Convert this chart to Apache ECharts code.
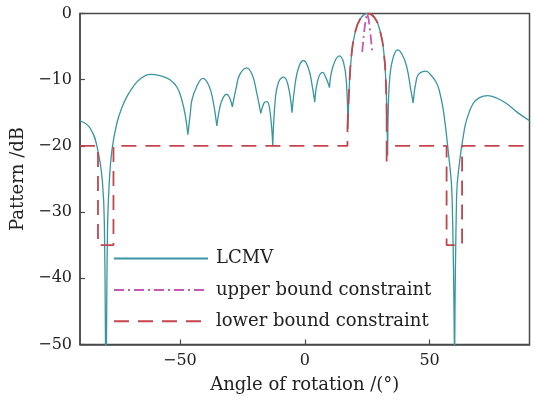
<!DOCTYPE html>
<html>
<head>
<meta charset="utf-8">
<script src="https://cdn.jsdelivr.net/npm/echarts@6/dist/echarts.min.js"></script>
<style>
  html, body { margin: 0; padding: 0; background: #fff; }
  #chart { width: 534px; height: 403px; }
</style>
</head>
<body>
<div id="chart"></div>
<script>
// Beam pattern of the LCMV beamformer (angle in degrees, level in dB),
// stored lobe by lobe; consecutive lobes share their null.
const lcmvLobes = [
  [[-90, -16.2], [-86, -17.3], [-83, -20.4], [-81, -25.5], [-80.2, -33], [-79.6, -60]],
  [[-79.6, -60], [-79, -33], [-78.3, -25.7], [-77.2, -20.6], [-75.2, -16.5], [-73, -14.0],
   [-71, -12.4], [-68.6, -11.0], [-65.9, -9.9], [-62, -9.2], [-58, -9.4], [-54, -10.0],
   [-51.2, -11.1], [-49.2, -13.1], [-47.8, -15.5], [-46.8, -18.3]],
  [[-46.8, -18.3], [-45.8, -15.0], [-45.2, -13.1], [-43.2, -11.0], [-40.8, -9.8],
   [-38.5, -10.8], [-36.8, -13.0], [-35.2, -17.0]],
  [[-35.2, -17.0], [-33.9, -14.0], [-32.5, -12.6], [-31.2, -12.2], [-30, -12.8], [-29, -14.1]],
  [[-29, -14.1], [-27.5, -11.3], [-26, -9.2], [-23.2, -8.2], [-21, -9.3], [-19.5, -11.5],
   [-17.6, -15.1]],
  [[-17.6, -15.1], [-16.3, -13.5], [-15.2, -13.3], [-14, -14.5], [-12.8, -20.1]],
  [[-12.8, -20.1], [-11.8, -13.0], [-10.5, -10.4], [-8.5, -9.6], [-6.7, -10.8], [-5.1, -15.0]],
  [[-5.1, -15.0], [-3.8, -10.5], [-2.3, -8.0], [-0.5, -7.1], [1.5, -8.3], [2.8, -10.5],
   [4.0, -13.4]],
  [[4.0, -13.4], [5.3, -10.0], [7.1, -8.9], [8.6, -9.8], [9.9, -11.2]],
  [[9.9, -11.2], [11.3, -8.0], [13.9, -6.4], [15.6, -7.5], [16.7, -10.5], [17.3, -17.5]],
  [[17.3, -17.5], [17.9, -10.5], [18.8, -6.0], [20.1, -3.0], [22.1, -0.9], [25, 0],
   [28.1, -0.7], [30.4, -3.0], [31.7, -6.0], [32.5, -10.5], [32.9, -15.6], [33.2, -21.5]],
  [[33.2, -21.5], [33.5, -13.6], [34.1, -9.5], [35.3, -6.8], [37.2, -5.5], [39, -6.2],
   [40.8, -8.0], [42.5, -11.6], [43.4, -13.5]],
  [[43.4, -13.5], [44.8, -9.8], [46.1, -9.0], [48.5, -8.7], [50.5, -9.3], [52.8, -10.5],
   [54.1, -12.0], [55.5, -14.6], [57.4, -20.6], [59, -27.7], [60, -60]],
  [[60, -60], [60.8, -27.7], [62.1, -22.1], [63.9, -17.6], [64.8, -16.1], [67.4, -13.6],
   [70, -12.7], [73.2, -12.4], [77, -12.8], [80.8, -13.6], [85, -14.9], [90, -16.2]]
];

// Upper bound constraint around the look direction
const upperBound = [
  [23, -5.8], [23.7, -3.0], [24.4, -0.9], [25, 0], [25.6, -0.9], [26.3, -3.0], [27, -5.8]
];

// Lower bound constraint: -20 dB sidelobe floor with -35 dB notches ...
const lowerSteps = [
  [[-90, -20], [-82.8, -20], [-82.8, -35], [-76.6, -35], [-76.6, -20], [17.1, -20], [17.1, -17.3]],
  [[32.8, -15.6], [32.8, -22.6], [32.8, -20], [56.8, -20], [56.8, -35], [63, -35], [63, -20], [90, -20]]
];
// ... and a main-lobe mask between the two steps
const lowerMainLobe = [
  [17.1, -17.3], [17.9, -10.5], [18.8, -6.0], [20.1, -3.0], [22.1, -0.9], [25, 0],
  [28.1, -0.7], [30.4, -3.0], [31.7, -6.0], [32.5, -10.5], [32.8, -15.6]
];

const xTicks = [-50, 0, 50];
const seriesNames = ['LCMV', 'upper bound constraint', 'lower bound constraint'];

// join pieces with a gap so each piece is drawn (and smoothed) on its own
const joinPieces = pieces => pieces.reduce((acc, p, i) => (i ? acc.concat(['-'], p) : acc.concat(p)), []);

const FONT = 'DejaVu Serif';
const AXIS_COLOR = '#4a4a4a';
const TEAL = '#3796a0';
const MAGENTA = '#c458b4';
const RED = '#c4454d';
const minus = v => (v < 0 ? '\u2212' + Math.abs(v) : String(v));

const chart = echarts.init(document.getElementById('chart'), null, { renderer: 'canvas' });
chart.setOption({
  animation: false,
  backgroundColor: '#fff',
  textStyle: { fontFamily: FONT, color: '#222' },
  grid: {
    left: 80, right: 4.5, top: 13.5, bottom: 58.5,
    show: true, borderColor: AXIS_COLOR, borderWidth: 1.5, backgroundColor: 'transparent'
  },
  legend: {
    data: seriesNames,
    orient: 'vertical',
    left: 108, top: 243.5,
    itemWidth: 94, itemHeight: 14, itemGap: 11.4,
    itemStyle: { opacity: 0 },
    textStyle: { fontFamily: FONT, fontSize: 18, color: '#222', lineHeight: 20, padding: [0, 0, 0, 3] }
  },
  xAxis: {
    type: 'value', min: -90, max: 90,
    name: 'Angle of rotation /(°)', nameLocation: 'middle', nameGap: 32,
    nameTextStyle: { fontFamily: FONT, fontSize: 18, color: '#222' },
    axisLine: { onZero: false, lineStyle: { color: AXIS_COLOR, width: 1.5 } },
    axisTick: { inside: true, length: 5, customValues: xTicks, lineStyle: { color: AXIS_COLOR, width: 1.2 } },
    axisLabel: { customValues: xTicks, formatter: minus, fontFamily: FONT, fontSize: 16, color: '#222', margin: 8 },
    splitLine: { show: false }
  },
  yAxis: {
    type: 'value', min: -50, max: 0, interval: 10,
    name: 'Pattern /dB', nameLocation: 'middle', nameGap: 44,
    nameTextStyle: { fontFamily: FONT, fontSize: 18, color: '#222' },
    axisLine: { onZero: false, lineStyle: { color: AXIS_COLOR, width: 1.5 } },
    axisTick: { inside: true, length: 5, lineStyle: { color: AXIS_COLOR, width: 1.2 } },
    axisLabel: { formatter: minus, fontFamily: FONT, fontSize: 16, color: '#222', margin: 8 },
    splitLine: { show: false }
  },
  series: [
    {
      name: seriesNames[0], type: 'line', data: joinPieces(lcmvLobes),
      symbol: 'none', smooth: 0.45, connectNulls: false, clip: true,
      lineStyle: { color: TEAL, width: 1.3 }, itemStyle: { color: TEAL }, z: 2
    },
    {
      name: seriesNames[1], type: 'line', data: upperBound,
      symbol: 'none', clip: true,
      lineStyle: { color: MAGENTA, width: 1.8, type: [10, 4, 2, 4] }, itemStyle: { color: MAGENTA }, z: 3
    },
    {
      name: seriesNames[2], type: 'line', data: joinPieces(lowerSteps),
      symbol: 'none', connectNulls: false, clip: true,
      lineStyle: { color: RED, width: 1.8, type: [15, 9] }, itemStyle: { color: RED }, z: 4
    },
    {
      name: seriesNames[2], type: 'line', data: lowerMainLobe,
      symbol: 'none', smooth: 0.45, clip: true,
      lineStyle: { color: RED, width: 1.8, type: [15, 9] }, itemStyle: { color: RED }, z: 4
    }
  ]
});
</script>
</body>
</html>
